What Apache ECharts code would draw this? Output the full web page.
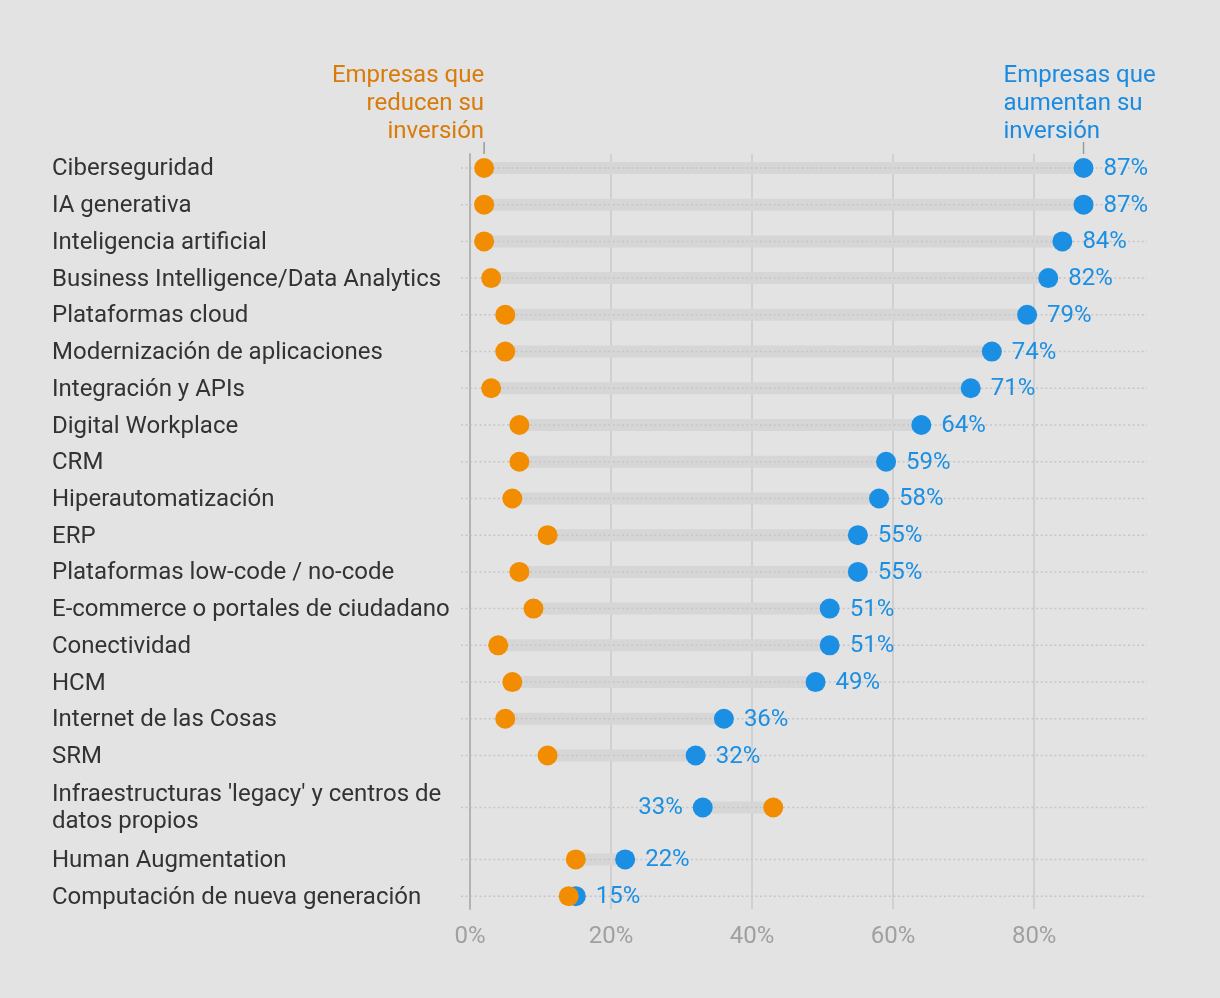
<!DOCTYPE html>
<html><head><meta charset="utf-8">
<script src="https://cdn.jsdelivr.net/npm/echarts@6/dist/echarts.min.js"></script>
<style>html,body{margin:0;padding:0;background:#e3e3e3}#c{width:1220px;height:998px}</style>
</head><body><div id="c"></div>
<script>
const categories = [
  "Ciberseguridad",
  "IA generativa",
  "Inteligencia artificial",
  "Business Intelligence/Data Analytics",
  "Plataformas cloud",
  "Modernización de aplicaciones",
  "Integración y APIs",
  "Digital Workplace",
  "CRM",
  "Hiperautomatización",
  "ERP",
  "Plataformas low-code / no-code",
  "E-commerce o portales de ciudadano",
  "Conectividad",
  "HCM",
  "Internet de las Cosas",
  "SRM",
  "Infraestructuras 'legacy' y centros de\ndatos propios",
  "Human Augmentation",
  "Computación de nueva generación"
];
const aumentan = [87, 87, 84, 82, 79, 74, 71, 64, 59, 58, 55, 55, 51, 51, 49, 36, 32, 33, 22, 15];
const reducen  = [2, 2, 2, 3, 5, 5, 3, 7, 7, 6, 11, 7, 9, 4, 6, 5, 11, 43, 15, 14];
const xTicks = [0, 20, 40, 60, 80];
const nameReducen = "Empresas que\nreducen su\ninversión";
const nameAumentan = "Empresas que\naumentan su\ninversión";

const FONT = "Roboto";
const FS = 24;
const ORANGE = "#f28c00", BLUE = "#1a8fe3";

// row layout derived from label line count
const rowH = categories.map(c => 1 + (c.split("\n").length - 1) * 0.83);
let acc = 0;
const rowPos = rowH.map(h => { const p = acc + h / 2; acc += h; return p; });
const total = acc;

const chart = echarts.init(document.getElementById("c"), null, {renderer: "canvas"});

const rowData = categories.map((c, i) => [reducen[i], aumentan[i], rowPos[i], i]);

chart.setOption({
  backgroundColor: "#e3e3e3",
  animation: false,
  textStyle: {fontFamily: FONT},
  grid: {left: 470, right: 73, top: 154, bottom: 89, containLabel: false, outerBoundsMode: "none"},
  xAxis: {
    type: "value", min: 0, max: 96, interval: 20,
    axisLine: {show: false}, axisTick: {show: false},
    axisLabel: {customValues: xTicks, formatter: "{value}%", color: "#a0a0a0", fontSize: FS, fontFamily: FONT, margin: 16},
    splitLine: {show: true, showMinLine: false, showMaxLine: false, lineStyle: {color: "#d0d0d0", width: 2}}
  },
  yAxis: {
    type: "value", inverse: true, min: 0.12, max: total - 0.15,
    axisLine: {show: true, lineStyle: {color: "#b3b3b3", width: 2}},
    axisTick: {show: false}, axisLabel: {show: false}, splitLine: {show: false}
  },
  series: [
    {
      type: "custom", z: 1, silent: true, clip: false,
      data: rowData,
      renderItem(params, api) {
        const cs = params.coordSys;
        const y = api.coord([0, api.value(2)])[1];
        const a = api.coord([api.value(0), api.value(2)])[0];
        const b = api.coord([api.value(1), api.value(2)])[0];
        const idx = api.value(3);
        return {type: "group", children: [
          {type: "rect", shape: {x: Math.min(a, b), y: y - 6, width: Math.abs(b - a), height: 12}, style: {fill: "#d6d6d6"}},
          {type: "line", shape: {x1: cs.x - 9, y1: y, x2: cs.x + cs.width, y2: y}, style: {stroke: "#c6c6c6", lineWidth: 1.5, lineDash: [2, 2.6]}},
          {type: "text", x: cs.x - 418, y: y + 1.5, style: {text: categories[idx], fontSize: FS, fontFamily: FONT, fill: "#333333", align: "left", verticalAlign: "middle", lineHeight: 27}}
        ]};
      }
    },
    {
      name: "Empresas que aumentan su inversión",
      type: "scatter", z: 3, symbolSize: 20, itemStyle: {color: BLUE, opacity: 1},
      data: aumentan.map((v, i) => ({
        value: [v, rowPos[i]],
        label: {position: v < reducen[i] ? "left" : "right"}
      })),
      label: {show: true, formatter: p => p.value[0] + "%", color: BLUE, fontSize: FS, fontFamily: FONT, distance: 10, offset: [0, 1]}
    },
    {
      name: "Empresas que reducen su inversión",
      type: "scatter", z: 4, symbolSize: 20, itemStyle: {color: ORANGE, opacity: 1},
      data: reducen.map((v, i) => [v, rowPos[i]])
    },
    {
      type: "custom", z: 5, silent: true, clip: false,
      data: [[reducen[0], aumentan[0], rowPos[0]]],
      renderItem(params, api) {
        const y = api.coord([0, api.value(2)])[1];
        const a = api.coord([api.value(0), api.value(2)])[0];
        const b = api.coord([api.value(1), api.value(2)])[0];
        return {type: "group", children: [
          {type: "line", shape: {x1: a, y1: y - 26, x2: a, y2: y - 14}, style: {stroke: "#9a9a9a", lineWidth: 1.5}},
          {type: "line", shape: {x1: b, y1: y - 26, x2: b, y2: y - 14}, style: {stroke: "#9a9a9a", lineWidth: 1.5}},
          {type: "text", x: a, y: y - 22, style: {text: nameReducen, fontSize: FS, fontFamily: FONT, fill: "#d97b08", align: "right", verticalAlign: "bottom", lineHeight: 28}},
          {type: "text", x: b - 80, y: y - 22, style: {text: nameAumentan, fontSize: FS, fontFamily: FONT, fill: "#1a8be0", align: "left", verticalAlign: "bottom", lineHeight: 28}}
        ]};
      }
    }
  ]
});
</script>
</body></html>
